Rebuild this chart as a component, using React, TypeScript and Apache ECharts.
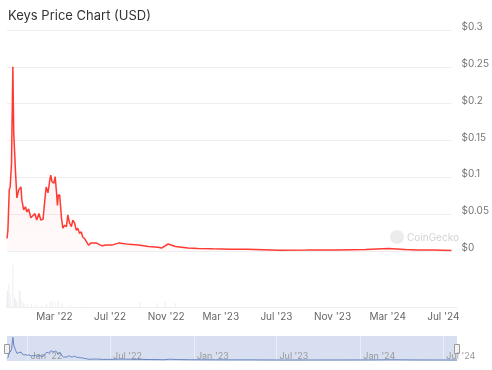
import React, { useEffect, useRef } from "react";
import * as echarts from "echarts";

const priceDates = [
  "2021-11-17", "2021-11-19", "2021-11-22", "2021-11-24", "2021-11-27", "2021-11-30",
  "2021-12-02", "2021-12-06", "2021-12-09", "2021-12-13", "2021-12-18", "2021-12-20",
  "2021-12-24", "2021-12-28", "2021-12-31", "2022-01-04", "2022-01-09", "2022-01-15",
  "2022-01-18", "2022-01-22", "2022-01-27", "2022-01-31", "2022-02-05", "2022-02-09",
  "2022-02-12", "2022-02-16", "2022-02-20", "2022-02-22", "2022-02-25", "2022-03-01",
  "2022-03-04", "2022-03-07", "2022-03-09", "2022-03-11", "2022-03-14", "2022-03-18",
  "2022-03-21", "2022-03-25", "2022-03-29", "2022-04-01", "2022-04-05", "2022-04-09",
  "2022-04-12", "2022-04-16", "2022-04-20", "2022-04-23", "2022-04-27", "2022-05-01",
  "2022-05-04", "2022-05-08", "2022-05-13", "2022-05-17", "2022-05-23", "2022-06-03",
  "2022-06-16", "2022-06-25", "2022-07-08", "2022-07-24", "2022-08-15", "2022-09-05",
  "2022-09-27", "2022-10-19", "2022-10-26", "2022-11-10", "2022-11-26", "2022-12-24",
  "2023-01-15", "2023-02-17", "2023-03-28", "2023-05-04", "2023-07-16", "2023-09-13",
  "2023-11-17", "2024-01-22", "2024-03-13", "2024-04-19", "2024-05-17", "2024-06-23",
  "2024-07-31",
];
const priceValues = [
  0.017, 0.028, 0.083, 0.087, 0.119, 0.25,
  0.16, 0.106, 0.072, 0.083, 0.087, 0.069,
  0.056, 0.06, 0.053, 0.057, 0.045, 0.049,
  0.051, 0.042, 0.051, 0.042, 0.043, 0.069,
  0.087, 0.079, 0.096, 0.103, 0.094, 0.092,
  0.101, 0.079, 0.062, 0.076, 0.076, 0.045,
  0.031, 0.035, 0.033, 0.049, 0.038, 0.033,
  0.042, 0.038, 0.028, 0.031, 0.024, 0.026,
  0.019, 0.017, 0.012, 0.008, 0.011, 0.011,
  0.007, 0.008, 0.008, 0.011, 0.009, 0.008,
  0.006, 0.005, 0.004, 0.0095, 0.006, 0.004,
  0.0035, 0.003, 0.0025, 0.0024, 0.001, 0.0012,
  0.0015, 0.002, 0.0035, 0.002, 0.0015, 0.0012,
  0.0006,
];

const volumeDates = [
  "2021-11-17", "2021-11-18", "2021-11-19", "2021-11-21", "2021-11-24", "2021-11-30",
  "2021-12-03", "2021-12-06", "2021-12-09", "2021-12-14", "2021-12-16", "2021-12-20",
  "2021-12-24", "2021-12-31", "2022-01-10", "2022-01-20", "2022-02-01", "2022-02-12",
  "2022-02-20", "2022-02-25", "2022-03-04", "2022-03-10", "2022-03-18", "2022-04-05",
  "2022-05-01", "2022-06-01", "2022-09-05", "2022-10-12", "2022-10-30", "2022-11-21",
  "2023-03-01", "2023-08-01", "2024-03-15",
];
const volumeValues = [
  1.2, 1.7, 1.5, 2.3, 1.3, 4.2,
  1.0, 0.8, 0.6, 1.7, 1.5, 0.6,
  0.4, 0.3, 0.3, 0.2, 0.2, 0.3,
  0.5, 0.6, 0.5, 0.6, 0.4, 0.2,
  0.15, 0.1, 0.5, 0.4, 0.5, 0.4,
  0.1, 0.1, 0.1,
];

const mainTickDates = ["2022-03-01", "2022-07-01", "2022-11-01", "2023-03-01", "2023-07-01", "2023-11-01", "2024-03-01", "2024-07-01"];
const mainTickLabels = ["Mar '22", "Jul '22", "Nov '22", "Mar '23", "Jul '23", "Nov '23", "Mar '24", "Jul '24"];
const navTickDates = ["2022-01-01", "2022-07-01", "2023-01-01", "2023-07-01", "2024-01-01", "2024-07-01"];
const navTickLabels = ["Jan '22", "Jul '22", "Jan '23", "Jul '23", "Jan '24", "Jul '24"];
const xStart = "2021-11-17";
const xEnd = "2024-07-31";

const ts = (s: string) => Date.parse(s + "T00:00:00Z");

export default function App() {
  const ref = useRef<HTMLDivElement>(null);
  useEffect(() => {
    if (!ref.current) return;
    const chart = echarts.init(ref.current, null, { renderer: "svg" });
    const priceData = priceDates.map((d, i) => [ts(d), priceValues[i]]);
    const volData = volumeDates.map((d, i) => [ts(d), volumeValues[i]]);
    const mainTicks = mainTickDates.map(ts);
    const navTicks = navTickDates.map(ts);
    const min = ts(xStart);
    const max = ts(xEnd);
    const font = "Inter, 'Noto Sans', sans-serif";
    chart.setOption({
      animation: false,
      title: {
        text: "Keys Price Chart (USD)",
        left: 3,
        top: 3,
        textStyle: { fontFamily: font, fontSize: 13, fontWeight: "normal", color: "#333" },
      },
      grid: [
        { left: 7, right: 35, top: 30, height: 221 },
        { left: 7, right: 35, top: 257, height: 50 },
        { left: 7, right: 35, top: 336, height: 25, show: true, backgroundColor: "#d8dff0", borderWidth: 0 },
      ],
      xAxis: [
        {
          type: "value", gridIndex: 0, min, max, scale: true,
          axisLabel: { show: false }, axisTick: { show: false }, axisLine: { show: false }, splitLine: { show: false },
        },
        {
          type: "value", gridIndex: 1, min, max, scale: true,
          axisLine: { show: true, onZero: false, lineStyle: { color: "#eeeeee" } },
          axisTick: { show: false, customValues: mainTicks },
          splitLine: { show: false },
          axisLabel: {
            customValues: mainTicks,
            formatter: (v: number) => {
              const i = mainTicks.indexOf(v);
              return i >= 0 ? mainTickLabels[i] : "";
            },
            color: "#666", fontSize: 10, margin: 4, fontFamily: font,
          },
        },
        {
          type: "value", gridIndex: 2, min, max, scale: true,
          axisLine: { show: false, onZero: false },
          axisTick: { show: false, customValues: navTicks },
          splitLine: { show: true, lineStyle: { color: "#e9edf7", width: 1 } },
          axisLabel: {
            inside: true,
            customValues: navTicks,
            formatter: (v: number) => {
              const i = navTicks.indexOf(v);
              return i >= 0 ? navTickLabels[i] : "";
            },
            align: "left", padding: [0, 0, 0, 3],
            color: "#999", fontSize: 9, margin: 1, fontFamily: font,
          },
        },
      ],
      yAxis: [
        {
          type: "value", gridIndex: 0, position: "right", min: 0, max: 0.3, interval: 0.05,
          axisLine: { show: false }, axisTick: { show: false },
          splitLine: { lineStyle: { color: "#eeeeee" } },
          axisLabel: {
            formatter: (v: number) => "$" + v,
            color: "#777", fontSize: 10, margin: 10, verticalAlign: "bottom", lineHeight: 8, fontFamily: font,
          },
        },
        { type: "value", gridIndex: 1, min: 0, max: 5, show: false },
        { type: "value", gridIndex: 2, min: -0.01, max: 0.265, show: false },
      ],
      graphic: [
        { type: "rect", left: 4, top: 344, shape: { width: 5, height: 9 }, style: { fill: "#f2f2f2", stroke: "#999", lineWidth: 1 } },
        { type: "rect", left: 454, top: 344, shape: { width: 5, height: 9 }, style: { fill: "#f2f2f2", stroke: "#999", lineWidth: 1 } },
        { type: "circle", shape: { cx: 397, cy: 237, r: 7 }, style: { fill: "#ececec" } },
        { type: "text", left: 407, top: 232, style: { text: "CoinGecko", fill: "#d2d2d2", fontSize: 10, fontFamily: font } },
      ],
      series: [
        {
          type: "line", xAxisIndex: 0, yAxisIndex: 0, data: priceData, showSymbol: false,
          lineStyle: { color: "#ff3a33", width: 1.5 },
          itemStyle: { color: "#ff3a33" },
          areaStyle: {
            color: new echarts.graphic.LinearGradient(0, 0, 0, 1, [
              { offset: 0, color: "rgba(255,58,51,0.12)" },
              { offset: 1, color: "rgba(255,58,51,0.04)" },
            ]),
          },
        },
        {
          type: "bar", xAxisIndex: 1, yAxisIndex: 1, data: volData, barWidth: 1,
          itemStyle: { color: "#eceef2" },
        },
        {
          type: "line", xAxisIndex: 2, yAxisIndex: 2, data: priceData, showSymbol: false,
          lineStyle: { color: "#6685c2", width: 1 },
        },
      ],
    });
    return () => chart.dispose();
  }, []);
  return <div ref={ref} style={{ position: "fixed", left: 0, top: 0, width: 492, height: 370 }} />;
}
